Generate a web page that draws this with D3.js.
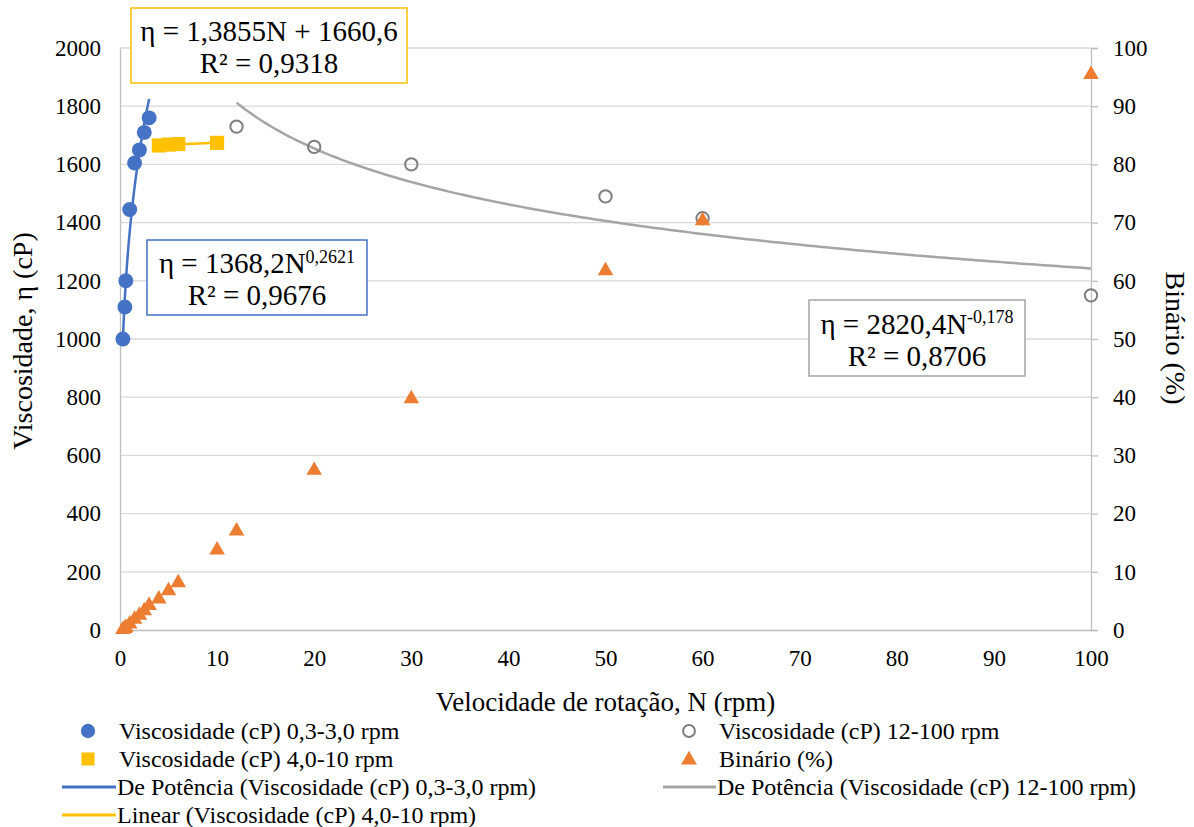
<!DOCTYPE html>
<html><head><meta charset="utf-8">
<script src="https://cdn.jsdelivr.net/npm/d3@7"></script>
</head>
<body style="margin:0;font-family:'Liberation Serif'">
<svg id="c" width="1194" height="827" style="font-family:'Liberation Serif'"></svg>
<script>
// ---- data ----
const nLow = [0.3, 0.5, 0.6, 1.0, 1.5, 2.0, 2.5, 3.0];
const viscLow = [1000, 1110, 1200, 1445, 1605, 1650, 1710, 1760];
const nMid = [4, 5, 6, 10];
const viscMid = [1665, 1668, 1670, 1674];
const nHigh = [12, 20, 30, 50, 60, 100];
const viscHigh = [1730, 1660, 1600, 1490, 1415, 1150];
const nTorque = [0.3, 0.5, 0.6, 1.0, 1.5, 2.0, 2.5, 3.0, 4, 5, 6, 10, 12, 20, 30, 50, 60, 100];
const torque = [0.25, 0.45, 0.6, 1.2, 2.0, 2.7, 3.5, 4.4, 5.5, 6.9, 8.3, 13.9, 17.2, 27.6, 39.9, 61.9, 70.5, 95.6];
// trendline coefficients (from displayed equations)
const powLow = [1368.2, 0.2621];
const linMid = [1.3855, 1660.6];
const powHigh = [2820.4, -0.178];
const xTicks = [0,10,20,30,40,50,60,70,80,90,100];
const yTicks = [0,200,400,600,800,1000,1200,1400,1600,1800,2000];
const y2Ticks = [0,10,20,30,40,50,60,70,80,90,100];

const C = {blue:"#4472C4", yellow:"#FFC000", gray:"#A5A5A5", grayM:"#7F7F7F", orange:"#ED7D31", grid:"#D9D9D9", axis:"#BFBFBF"};
const FF = "Liberation Serif";
const svg = d3.select("#c");
const L = 120, R = 1091, T = 48, B = 630;
const x = d3.scaleLinear().domain([0,100]).range([L,R]);
const y = d3.scaleLinear().domain([0,2000]).range([B,T]);
const y2 = d3.scaleLinear().domain([0,100]).range([B,T]);
const FS = 23;

// grid
svg.append("g").selectAll("line").data(yTicks.slice(1)).join("line")
  .attr("x1",L).attr("x2",R).attr("y1",d=>y(d)).attr("y2",d=>y(d))
  .attr("stroke",C.grid).attr("stroke-width",1.3);

// axes
const fmt = d3.format("d");
const gx = svg.append("g").attr("transform",`translate(0,${B})`)
  .call(d3.axisBottom(x).tickValues(xTicks).tickFormat(fmt).tickSize(0).tickPadding(20));
const gy = svg.append("g").attr("transform",`translate(${L},0)`)
  .call(d3.axisLeft(y).tickValues(yTicks).tickFormat(fmt).tickSize(0).tickPadding(19));
const gy2 = svg.append("g").attr("transform",`translate(${R},0)`)
  .call(d3.axisRight(y2).tickValues(y2Ticks).tickFormat(fmt).tickSize(7).tickPadding(15));
[gx,gy,gy2].forEach(g=>{
  g.attr("font-family",null).attr("font-size",FS);
  g.selectAll(".domain").attr("stroke",C.axis).attr("stroke-width",1.3);
  g.selectAll(".tick line").attr("stroke",C.axis).attr("stroke-width",1.3);
  g.selectAll("text").attr("fill","#000").attr("font-family",FF).style("font-family",FF);
});
gx.selectAll(".tick text").attr("dy","0.71em");

// trend lines
function curve(f, a, b, n=200){ const pts=[]; for(let i=0;i<=n;i++){const t=a+(b-a)*i/n; pts.push([t,f(t)]);} return pts; }
const line = d3.line().x(d=>x(d[0])).y(d=>y(d[1]));
svg.append("path").attr("d",line(curve(t=>powHigh[0]*Math.pow(t,powHigh[1]), nHigh[0], nHigh[nHigh.length-1])))
  .attr("fill","none").attr("stroke",C.gray).attr("stroke-width",2.5);
svg.append("path").attr("d",line(curve(t=>linMid[0]*t+linMid[1], nMid[0], nMid[nMid.length-1])))
  .attr("fill","none").attr("stroke",C.yellow).attr("stroke-width",2.5);
svg.append("path").attr("d",line(curve(t=>powLow[0]*Math.pow(t,powLow[1]), nLow[0], nLow[nLow.length-1])))
  .attr("fill","none").attr("stroke",C.blue).attr("stroke-width",2.5);

// markers
const sym = (type,size)=>d3.symbol().type(type).size(size)();
svg.append("g").selectAll("path").data(nLow.map((n,i)=>[n,viscLow[i]])).join("path")
  .attr("d",sym(d3.symbolCircle,175)).attr("transform",d=>`translate(${x(d[0])},${y(d[1])})`).attr("fill",C.blue);
svg.append("g").selectAll("path").data(nMid.map((n,i)=>[n,viscMid[i]])).join("path")
  .attr("d",sym(d3.symbolSquare,200)).attr("transform",d=>`translate(${x(d[0])},${y(d[1])})`).attr("fill",C.yellow);
svg.append("g").selectAll("path").data(nHigh.map((n,i)=>[n,viscHigh[i]])).join("path")
  .attr("d",sym(d3.symbolCircle,120)).attr("transform",d=>`translate(${x(d[0])},${y(d[1])})`)
  .attr("fill","none").attr("stroke",C.grayM).attr("stroke-width",2);
svg.append("g").selectAll("path").data(nTorque.map((n,i)=>[n,torque[i]])).join("path")
  .attr("d",sym(d3.symbolTriangle,105)).attr("transform",d=>`translate(${x(d[0])},${y2(d[1])+1})`).attr("fill",C.orange);

// axis titles
function txt(){ return svg.append("text").attr("font-family",FF).style("font-family",FF).attr("fill","#000"); }
txt().attr("x",(L+R)/2).attr("y",702).attr("dy","0.35em").attr("text-anchor","middle").attr("font-size",27)
  .text("Velocidade de rotação, N (rpm)");
txt().attr("transform","translate(22,341) rotate(-90)").attr("dy","0.35em").attr("text-anchor","middle").attr("font-size",28)
  .text("Viscosidade, η (cP)");
txt().attr("transform","translate(1176,338) rotate(90)").attr("dy","0.35em").attr("text-anchor","middle").attr("font-size",28)
  .text("Binário (%)");

// annotation boxes
function box(x0,y0,x1,y1,col,l1,sup,l2){
  svg.append("rect").attr("x",x0).attr("y",y0).attr("width",x1-x0).attr("height",y1-y0)
    .attr("fill","#fff").attr("stroke",col).attr("stroke-width",1.5);
  const cx=(x0+x1)/2, h=y1-y0;
  const t=txt().attr("x",cx).attr("y",y0+h*0.31).attr("dy","0.35em").attr("text-anchor","middle").attr("font-size",29);
  t.append("tspan").text(l1);
  if(sup) t.append("tspan").attr("font-size",18).attr("dy","-0.6em").text(sup);
  txt().attr("x",cx).attr("y",y0+h*0.73).attr("dy","0.35em").attr("text-anchor","middle").attr("font-size",29).text(l2);
}
box(131,8,407,83,C.yellow,"η = 1,3855N + 1660,6",null,"R² = 0,9318");
box(147,240,367,315,C.blue,"η = 1368,2N","0,2621","R² = 0,9676");
box(809,300,1025,376,C.gray,"η = 2820,4N","-0,178","R² = 0,8706");

// legend
const LFS = 24;
const legY=[731,759,787,815];
const lg = svg.append("g");
function legText(xx,yy,s){ lg.append("text").attr("font-family",FF).style("font-family",FF).attr("fill","#000").attr("x",xx).attr("y",yy).attr("dy","0.35em").attr("font-size",LFS).text(s); }
lg.append("path").attr("d",sym(d3.symbolCircle,160)).attr("transform",`translate(88,${legY[0]})`).attr("fill",C.blue);
legText(119,legY[0],"Viscosidade (cP) 0,3-3,0 rpm");
lg.append("path").attr("d",sym(d3.symbolSquare,170)).attr("transform",`translate(88,${legY[1]})`).attr("fill",C.yellow);
legText(119,legY[1],"Viscosidade (cP) 4,0-10 rpm");
lg.append("line").attr("x1",62).attr("x2",116).attr("y1",legY[2]).attr("y2",legY[2]).attr("stroke",C.blue).attr("stroke-width",3);
legText(117,legY[2],"De Potência (Viscosidade (cP) 0,3-3,0 rpm)");
lg.append("line").attr("x1",62).attr("x2",116).attr("y1",legY[3]).attr("y2",legY[3]).attr("stroke",C.yellow).attr("stroke-width",3);
legText(117,legY[3],"Linear (Viscosidade (cP) 4,0-10 rpm)");
lg.append("path").attr("d",sym(d3.symbolCircle,110)).attr("transform",`translate(689,${legY[0]})`).attr("fill","none").attr("stroke",C.grayM).attr("stroke-width",2);
legText(719,legY[0],"Viscosidade (cP) 12-100 rpm");
lg.append("path").attr("d",sym(d3.symbolTriangle,110)).attr("transform",`translate(689,${legY[1]+1})`).attr("fill",C.orange);
legText(719,legY[1],"Binário (%)");
lg.append("line").attr("x1",663).attr("x2",716).attr("y1",legY[2]).attr("y2",legY[2]).attr("stroke",C.gray).attr("stroke-width",3);
legText(717,legY[2],"De Potência (Viscosidade (cP) 12-100 rpm)");
</script></body></html>
